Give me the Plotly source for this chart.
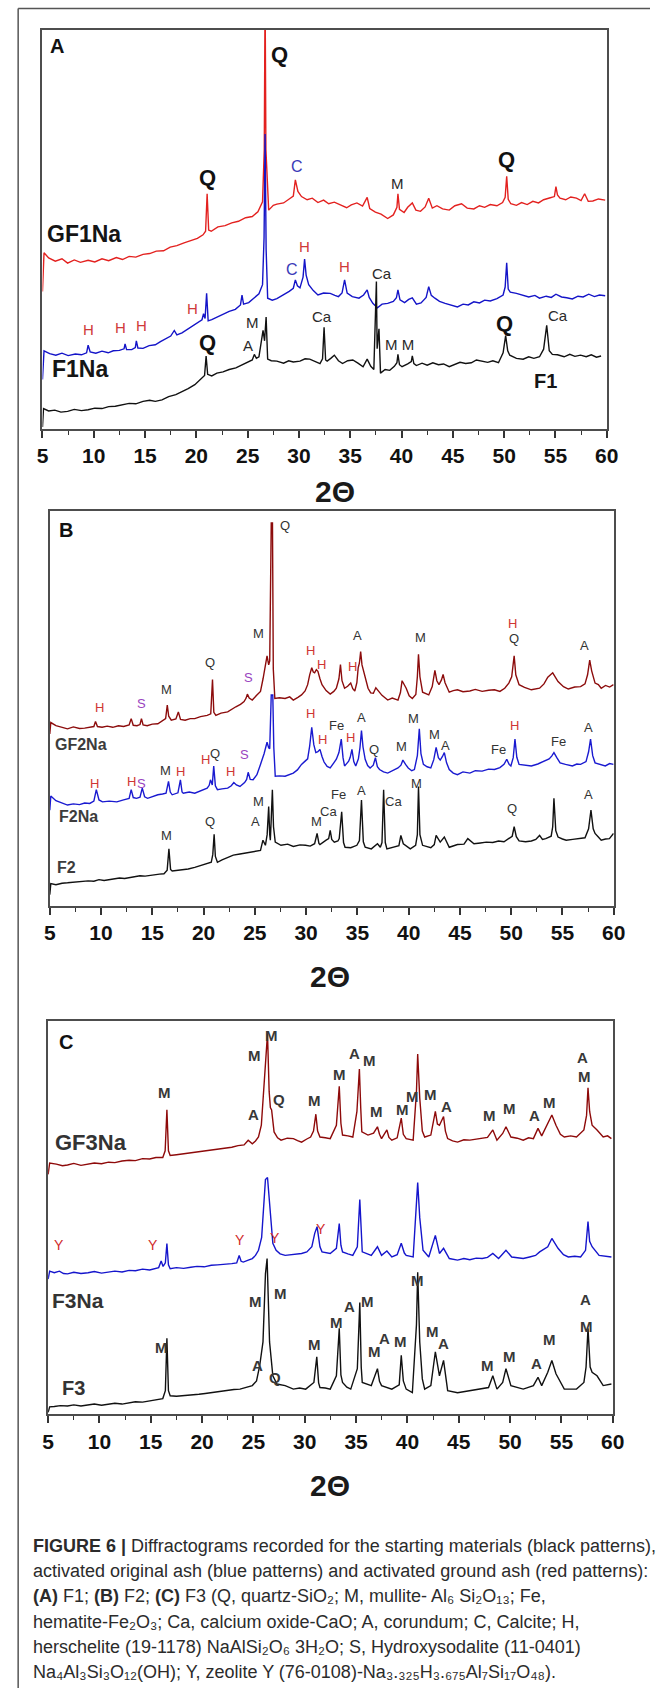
import plotly.graph_objects as go

# ---------------- Panel A : F1 series ----------------
a_gf1na_2t = [5.0, 5.15, 5.6, 6.25, 6.9, 7.45, 8.1, 8.7, 9.45, 10.1, 10.8, 11.45, 12.2, 12.8, 13.45, 14.1, 14.8, 15.45,
              16.1, 16.8, 17.45, 18.1, 18.8, 19.45, 20.1, 20.65, 20.9, 21.05, 21.2, 21.45, 22.1, 22.8, 23.45, 24.1, 24.8,
              25.45, 26.0, 26.45, 26.62, 26.7, 26.78, 27.05, 27.5, 27.85, 28.5, 29.05, 29.45, 29.65, 29.9, 30.25, 30.8,
              31.3, 31.85, 32.4, 32.9, 33.45, 34.0, 34.65, 35.1, 35.65, 36.2, 36.65, 36.9, 37.45, 38.0, 38.65, 39.2,
              39.55, 39.65, 39.8, 40.25, 40.6, 41.05, 41.4, 41.85, 42.3, 42.65, 43.0, 43.45, 44.0, 44.65, 45.2, 45.85,
              46.4, 47.05, 47.6, 48.1, 48.65, 49.3, 49.85, 50.1, 50.25, 50.4, 50.65, 51.2, 51.7, 52.25, 52.8, 53.35,
              53.85, 54.5, 54.9, 55.05, 55.2, 55.45, 56.0, 56.5, 57.05, 57.5, 57.85, 58.2, 58.65, 59.2, 59.85]
a_gf1na_int = [34.4, 44.1, 42.8, 42.0, 42.6, 41.5, 42.3, 41.7, 42.2, 41.8, 42.6, 42.1, 42.9, 42.4, 43.2, 43.0, 43.7, 43.9,
               44.5, 44.6, 45.5, 45.9, 46.6, 47.2, 47.7, 48.6, 49.5, 58.9, 49.8, 49.5, 50.6, 50.9, 51.6, 52.0, 52.9,
               53.2, 54.4, 56.9, 70.0, 110.0, 70.0, 54.8, 56.0, 56.3, 56.6, 57.6, 58.3, 62.4, 59.5, 58.2, 57.4,
               57.8, 56.7, 57.3, 56.4, 56.8, 56.2, 55.4, 56.1, 56.6, 55.8, 58.0, 55.2, 54.3, 53.8, 52.7, 53.6,
               55.5, 58.9, 55.0, 54.2, 55.5, 56.6, 54.8, 54.5, 55.6, 57.8, 55.3, 55.9, 55.1, 54.8, 55.9, 56.4,
               55.3, 55.1, 55.9, 55.5, 56.2, 55.9, 56.7, 58.0, 63.3, 57.5, 56.4, 56.0, 56.7, 56.2, 57.0, 56.6,
               57.4, 57.9, 58.2, 60.7, 58.6, 57.8, 57.4, 58.1, 57.8, 57.2, 58.9, 57.0, 57.1, 57.6, 57.3]

a_f1na_2t = [5.0, 5.15, 5.7, 6.3, 6.9, 7.5, 8.2, 8.8, 9.3, 9.45, 9.65, 10.2, 10.8, 11.4, 11.9, 12.5, 12.95, 13.05, 13.2,
             13.7, 14.05, 14.15, 14.3, 14.8, 15.4, 16.0, 16.5, 17.0, 17.5, 17.85, 18.1, 18.6, 19.1, 19.6, 20.1, 20.55,
             20.7, 20.85, 21.0, 21.15, 21.5, 22.0, 22.6, 23.2, 23.8, 24.3, 24.45, 24.6, 25.1, 25.6, 26.1, 26.45, 26.6,
             26.7, 26.8, 26.95, 27.4, 27.85, 28.4, 29.05, 29.45, 29.65, 29.85, 30.1, 30.4, 30.55, 30.7, 30.95, 31.4,
             31.85, 32.4, 33.05, 33.5, 33.85, 34.2, 34.45, 34.7, 35.2, 35.85, 36.3, 36.65, 36.85, 37.2, 37.65, 38.1,
             38.65, 39.2, 39.5, 39.65, 39.85, 40.3, 40.7, 41.05, 41.45, 41.9, 42.4, 42.65, 42.9, 43.25, 43.7, 44.25,
             44.8, 45.45, 46.0, 46.5, 47.05, 47.6, 48.1, 48.65, 49.3, 49.9, 50.1, 50.25, 50.4, 50.6, 51.2, 51.85,
             52.4, 53.0, 53.45, 54.1, 54.6, 55.05, 55.6, 56.1, 56.65, 57.2, 57.7, 58.25, 58.8, 59.3, 59.85]
a_f1na_int = [12.3, 19.5, 18.8, 18.4, 18.9, 18.3, 18.7, 18.5, 19.0, 20.9, 19.2, 18.9, 19.4, 19.0, 19.5, 19.6, 20.0, 21.2, 19.8,
              19.8, 20.3, 22.0, 20.2, 20.1, 20.8, 21.0, 21.8, 22.4, 23.2, 24.6, 23.5, 24.0, 24.9, 25.6, 26.5, 27.3,
              28.8, 27.6, 33.9, 27.0, 27.3, 27.9, 28.5, 29.4, 29.9, 31.0, 33.5, 31.2, 31.6, 32.6, 33.8, 36.1, 48.0,
              73.9, 45.0, 32.7, 32.2, 32.6, 33.4, 34.4, 35.2, 37.3, 35.8, 35.3, 38.0, 42.5, 38.5, 36.1, 34.6,
              33.5, 34.0, 33.9, 33.4, 33.1, 34.0, 37.3, 34.0, 33.1, 32.7, 33.5, 34.8, 32.9, 31.4, 30.3, 31.2,
              31.4, 31.9, 32.8, 34.8, 32.3, 31.6, 32.4, 32.8, 31.2, 31.5, 32.9, 35.6, 33.4, 32.7, 31.9, 31.4,
              31.0, 30.5, 31.2, 31.0, 31.8, 31.5, 32.2, 32.0, 32.6, 33.5, 35.5, 41.6, 35.0, 34.2, 33.9, 33.5,
              33.0, 33.4, 32.7, 33.2, 32.9, 33.7, 33.0, 32.8, 32.5, 33.2, 33.0, 33.7, 33.1, 33.5, 33.3]

a_f1_2t = [5.0, 5.1, 5.6, 6.2, 6.8, 7.45, 8.1, 8.8, 9.45, 10.1, 10.8, 11.45, 12.1, 12.8, 13.45, 14.1, 14.8, 15.45, 16.0,
           16.65, 17.3, 18.0, 18.6, 19.2, 19.85, 20.4, 20.8, 20.95, 21.1, 21.5, 22.0, 22.6, 23.2, 23.85, 24.5, 25.05,
           25.45, 25.65, 25.85, 26.1, 26.3, 26.5, 26.65, 26.8, 26.95, 27.3, 27.85, 28.5, 29.0, 29.45, 30.1, 30.6,
           31.05, 31.6, 32.05, 32.3, 32.45, 32.6, 32.75, 33.1, 33.45, 33.85, 34.25, 34.75, 35.25, 35.75, 36.25,
           36.65, 37.0, 37.3, 37.5, 37.55, 37.62, 37.7, 37.8, 37.95, 38.4, 38.85, 39.3, 39.55, 39.65, 39.8, 40.05,
           40.6, 40.95, 41.05, 41.2, 41.45, 42.0, 42.5, 43.05, 43.6, 44.1, 44.65, 45.2, 45.7, 46.25, 46.8, 47.3,
           47.85, 48.4, 48.9, 49.45, 49.9, 50.15, 50.35, 50.55, 51.2, 51.85, 52.4, 52.9, 53.45, 53.85, 54.15,
           54.4, 54.7, 55.2, 55.85, 56.4, 56.9, 57.45, 58.0, 58.5, 59.0, 59.45]
a_f1_int = [0.4, 5.0, 4.4, 4.6, 4.1, 4.3, 4.8, 4.5, 4.7, 5.1, 5.0, 5.5, 5.6, 6.0, 6.3, 6.2, 6.8, 7.1, 6.8,
            7.2, 8.0, 8.5, 9.2, 10.0, 11.0, 12.3, 13.3, 18.2, 13.6, 13.2, 13.9, 14.2, 14.8, 15.2, 16.0, 16.5,
            17.2, 18.6, 17.6, 18.0, 20.8, 24.6, 22.0, 28.0, 17.4, 17.0, 16.9, 16.4, 17.0, 16.7, 16.9, 17.5,
            17.4, 16.8, 16.3, 17.5, 25.4, 17.2, 16.9, 17.6, 18.4, 17.0, 16.3, 17.0, 17.2, 16.4, 15.5,
            17.4, 15.6, 14.8, 30.0, 36.9, 20.0, 22.5, 25.0, 13.9, 14.8, 14.6, 15.6, 16.5, 18.6, 16.0, 15.5,
            16.2, 16.8, 18.2, 16.3, 15.8, 16.4, 15.9, 16.5, 16.0, 16.2, 15.5, 16.0, 16.6, 16.3, 16.5, 17.2,
            16.9, 16.6, 17.0, 16.5, 19.0, 23.3, 19.5, 18.4, 17.6, 17.4, 18.0, 17.6, 18.0, 19.9, 25.9,
            19.5, 18.6, 18.5, 18.0, 18.6, 18.1, 18.4, 18.0, 18.5, 17.9, 18.2]

# ---------------- Panel B : F2 series ----------------
b_gf2na_2t = [5.0, 5.1, 5.6, 6.2, 6.73, 7.3, 7.9, 8.4, 8.9, 9.3, 9.46, 9.65, 10.1, 10.6, 11.14, 11.7, 12.2, 12.74, 12.94,
              13.14, 13.5, 13.8, 13.94, 14.1, 14.5, 15.0, 15.54, 16.0, 16.3, 16.46, 16.6, 16.85, 17.3, 17.54, 17.75,
              18.2, 18.7, 19.14, 19.7, 20.35, 20.7, 20.87, 21.0, 21.2, 21.7, 22.35, 22.8, 23.15, 23.6, 23.95, 24.15,
              24.27, 24.45, 24.75, 25.2, 25.55, 25.8, 25.95, 26.19, 26.35, 26.45, 26.6, 26.72, 26.8, 26.95, 27.4,
              27.95, 28.4, 28.75, 29.2, 29.55, 29.9, 30.15, 30.35, 30.55, 30.7, 30.83, 31.0, 31.15, 31.35, 31.55,
              31.95, 32.35, 32.7, 32.95, 33.2, 33.35, 33.5, 33.75, 34.05, 34.35, 34.55, 34.75, 34.95, 35.08, 35.2,
              35.32, 35.45, 35.64, 35.85, 36.04, 36.3, 36.56, 36.8, 36.96, 37.4, 37.96, 38.4, 38.96, 39.2, 39.36,
              39.55, 39.76, 40.05, 40.36, 40.7, 40.85, 40.96, 41.1, 41.36, 41.7, 41.96, 42.3, 42.56, 42.75, 42.96,
              43.2, 43.36, 43.55, 43.96, 44.35, 44.76, 45.3, 45.97, 46.5, 47.17, 47.8, 48.37, 48.9, 49.37, 49.77,
              50.05, 50.29, 50.45, 50.77, 51.3, 51.97, 52.4, 52.77, 53.2, 53.57, 54.05, 54.3, 54.57, 55.1, 55.57,
              56.2, 56.77, 57.2, 57.45, 57.66, 57.85, 58.18, 58.5, 58.78, 59.2, 59.6, 59.98]
b_gf2na_int = [43.5, 46.4, 45.6, 45.1, 44.8, 45.3, 44.9, 45.0, 45.3, 45.4, 46.7, 45.4, 45.2, 45.5, 45.2, 45.6, 45.4, 45.8, 47.4,
               45.7, 45.6, 45.9, 47.4, 45.8, 45.6, 46.0, 46.1, 46.8, 47.4, 50.8, 48.0, 47.0, 47.3, 49.1, 47.2,
               47.0, 47.4, 47.4, 47.9, 48.2, 48.6, 57.3, 49.0, 48.2, 48.8, 49.1, 49.9, 50.4, 51.0, 51.7, 52.6,
               53.6, 52.6, 52.1, 53.4, 54.3, 57.5, 59.4, 63.3, 61.0, 62.0, 97.0, 97.0, 60.0, 52.5, 52.7,
               52.5, 52.9, 52.1, 52.8, 53.4, 54.4, 56.0, 58.5, 60.3, 59.2, 59.0, 59.8, 59.4, 57.5, 56.0,
               54.5, 53.6, 54.3, 55.1, 57.5, 61.1, 57.0, 55.1, 55.6, 56.4, 55.0, 54.4, 56.5, 60.3, 61.5,
               64.4, 61.0, 59.0, 56.5, 55.1, 53.9, 53.8, 55.2, 54.7, 53.3, 52.1, 52.6, 52.1, 54.0, 57.0,
               56.2, 55.1, 53.2, 52.5, 53.5, 58.0, 63.7, 58.0, 54.1, 53.6, 53.4, 55.5, 59.6, 57.0, 56.0,
               57.2, 58.6, 56.5, 54.1, 54.5, 54.7, 54.2, 54.4, 54.8, 54.3, 54.6, 54.7, 54.3, 55.1, 56.4,
               58.0, 63.3, 58.5, 56.0, 55.3, 54.7, 55.0, 55.1, 56.2, 57.9, 59.0, 58.0, 56.8, 55.5, 54.9,
               55.4, 55.5, 56.2, 58.5, 62.2, 59.5, 56.4, 56.0, 55.1, 55.8, 55.4, 56.0]

b_f2na_2t = [5.0, 5.1, 5.6, 6.2, 6.73, 7.3, 7.9, 8.4, 8.9, 9.3, 9.54, 9.8, 10.14, 10.8, 11.54, 12.2, 12.74, 12.94, 13.14,
             13.46, 13.8, 14.02, 14.25, 14.54, 15.0, 15.54, 16.0, 16.34, 16.58, 16.75, 16.94, 17.5, 17.74, 17.9, 18.02,
             18.6, 19.14, 19.7, 20.35, 20.55, 20.67, 20.85, 20.99, 21.15, 21.35, 21.8, 22.35, 22.7, 22.95, 23.2,
             23.55, 24.0, 24.2, 24.35, 24.55, 24.83, 25.2, 25.55, 25.9, 26.19, 26.35, 26.45, 26.6, 26.75, 26.85,
             26.99, 27.4, 27.95, 28.35, 28.75, 29.15, 29.55, 29.85, 30.15, 30.35, 30.55, 30.75, 30.95, 31.15,
             31.35, 31.55, 31.75, 32.05, 32.35, 32.7, 32.95, 33.2, 33.43, 33.6, 33.75, 33.95, 34.15, 34.3, 34.47,
             34.65, 34.84, 35.1, 35.25, 35.4, 35.55, 35.76, 36.0, 36.24, 36.55, 36.76, 36.95, 37.16, 37.55, 37.96,
             38.45, 38.96, 39.25, 39.44, 39.7, 39.96, 40.3, 40.56, 40.85, 41.04, 41.2, 41.44, 41.8, 42.16, 42.45,
             42.68, 42.9, 43.08, 43.3, 43.48, 43.7, 43.96, 44.35, 44.76, 45.3, 45.97, 46.5, 47.17, 47.8, 48.37,
             48.9, 49.3, 49.57, 49.8, 49.97, 50.2, 50.37, 50.55, 50.77, 51.3, 51.97, 52.6, 53.17, 53.7, 53.95,
             54.17, 54.45, 54.77, 55.3, 55.97, 56.4, 56.77, 57.3, 57.55, 57.74, 57.95, 58.18, 58.6, 59.18, 59.6,
             59.98]
b_f2na_int = [24.2, 27.8, 26.6, 26.0, 25.5, 25.8, 25.6, 26.0, 25.9, 26.5, 29.4, 26.8, 26.3, 26.5, 26.3, 26.8, 27.2, 29.4, 27.4,
              27.2, 27.5, 29.8, 27.6, 27.2, 27.7, 28.1, 28.3, 28.5, 31.5, 28.8, 28.1, 28.6, 31.9, 28.8, 28.5,
              28.8, 28.5, 29.2, 29.8, 30.5, 31.9, 30.6, 35.4, 30.4, 29.4, 29.6, 29.8, 30.4, 31.2, 30.6,
              30.2, 31.2, 32.0, 33.8, 32.0, 31.9, 33.2, 35.8, 38.5, 41.4, 40.0, 39.8, 53.4, 53.4, 40.0,
              32.8, 32.9, 32.8, 33.2, 33.6, 34.4, 35.8, 36.5, 37.2, 40.5, 45.2, 40.8, 38.8, 39.0,
              39.6, 37.8, 36.4, 35.3, 34.9, 36.2, 37.1, 38.8, 42.2, 37.5, 35.4, 36.0, 36.6, 37.6, 39.6,
              36.5, 35.4, 37.2, 40.0, 44.4, 40.2, 37.1, 35.5, 34.9, 35.6, 37.5, 35.2, 34.5, 33.9, 33.6,
              34.2, 34.9, 35.6, 36.9, 35.8, 34.9, 34.2, 34.5, 38.0, 44.8, 38.5, 35.8, 35.2, 34.9, 37.0,
              40.1, 37.5, 36.9, 37.8, 38.8, 36.2, 34.5, 33.6, 33.2, 33.9, 33.6, 34.2, 34.1, 34.6, 34.5,
              35.0, 35.8, 37.1, 35.8, 35.4, 37.5, 42.2, 37.6, 35.8, 35.7, 35.4, 35.9, 36.6, 37.2, 37.9,
              38.8, 37.5, 36.2, 35.8, 35.4, 35.9, 35.8, 36.5, 39.0, 42.2, 38.0, 36.2, 35.9, 35.4, 36.0,
              35.8]

b_f2_2t = [5.0, 5.1, 5.6, 6.2, 6.73, 7.3, 7.9, 8.4, 8.74, 9.3, 9.8, 10.3, 10.74, 11.3, 11.8, 12.3, 12.74, 13.3, 13.8,
           14.3, 14.74, 15.3, 15.7, 16.14, 16.45, 16.62, 16.78, 16.94, 17.4, 17.94, 18.5, 19.14, 19.7, 20.35, 20.75,
           20.9, 21.03, 21.15, 21.35, 21.8, 22.35, 22.9, 23.55, 24.2, 24.95, 25.55, 25.79, 25.95, 26.03, 26.2,
           26.35, 26.45, 26.51, 26.6, 26.71, 26.82, 26.99, 27.55, 28.2, 28.75, 29.4, 29.95, 30.4, 30.83, 31.07,
           31.25, 31.35, 31.95, 32.2, 32.35, 32.5, 32.75, 33.1, 33.23, 33.47, 33.65, 33.8, 34.35, 34.95, 35.2,
           35.4, 35.58, 35.76, 36.36, 36.96, 37.24, 37.4, 37.56, 37.72, 37.88, 38.56, 39.05, 39.24, 39.48, 40.16,
           40.68, 40.85, 40.96, 41.1, 41.36, 42.16, 42.5, 42.68, 43.08, 43.48, 43.96, 44.76, 45.4, 45.77, 46.37,
           47.0, 47.57, 48.2, 48.77, 49.3, 49.77, 50.1, 50.29, 50.5, 50.77, 51.4, 51.97, 52.4, 52.77, 53.05,
           53.37, 53.9, 54.05, 54.17, 54.35, 54.57, 55.0, 55.37, 56.0, 56.57, 57.2, 57.55, 57.78, 58.0, 58.18,
           58.5, 58.78, 59.2, 59.58, 59.98]
b_f2_int = [2.8, 5.6, 5.3, 5.7, 5.8, 5.9, 6.0, 6.1, 6.3, 6.2, 6.6, 6.4, 6.6, 6.8, 7.0, 6.9, 7.1, 7.3, 7.6,
            7.5, 7.7, 7.9, 8.0, 8.1, 9.0, 14.4, 9.2, 8.8, 8.9, 9.0, 9.3, 9.7, 10.2, 10.7, 11.0,
            13.0, 18.1, 12.5, 11.0, 11.6, 12.3, 12.8, 13.1, 13.4, 13.6, 14.0, 16.6, 15.5, 15.3, 18.0,
            25.1, 18.0, 16.6, 22.0, 29.4, 20.0, 16.1, 15.3, 15.6, 15.0, 15.4, 15.3, 15.1, 15.7, 18.3,
            15.8, 15.5, 16.6, 17.0, 19.1, 16.8, 16.1, 16.4, 17.0, 23.8, 16.0, 14.8, 14.7, 15.3, 16.5,
            26.8, 16.2, 14.8, 14.4, 15.7, 14.8, 16.0, 29.4, 16.0, 14.4, 14.8, 15.2, 17.8, 15.7, 14.4,
            15.3, 18.0, 30.2, 18.0, 15.3, 14.7, 15.5, 17.8, 16.1, 17.4, 14.8, 15.5, 15.6, 17.0, 15.7,
            15.9, 16.1, 16.0, 16.4, 16.2, 17.0, 17.6, 20.0, 17.5, 16.4, 16.2, 16.4, 16.8, 17.8, 16.8,
            17.0, 17.6, 20.0, 27.2, 19.0, 17.4, 16.9, 16.6, 16.8, 17.0, 17.2, 19.5, 24.2, 19.5, 18.3,
            17.4, 16.6, 16.9, 17.0, 18.3]

# ---------------- Panel C : F3 series ----------------
c_gf3na_2t = [5.0, 5.15, 5.8, 6.4, 6.89, 7.5, 8.2, 8.89, 9.5, 10.2, 10.89, 11.5, 12.2, 12.89, 13.5, 14.2, 14.89, 15.5,
              16.17, 16.4, 16.57, 16.72, 16.89, 17.5, 18.09, 18.7, 19.29, 19.9, 20.49, 21.1, 21.69, 22.3, 22.89, 23.5,
              24.09, 24.49, 24.89, 25.2, 25.49, 25.77, 26.01, 26.21, 26.37, 26.53, 26.65, 26.77, 26.9, 27.01, 27.35,
              27.69, 28.3, 28.89, 29.3, 29.69, 30.2, 30.57, 30.85, 31.08, 31.25, 31.48, 32.0, 32.48, 33.08, 33.36,
              33.52, 33.68, 34.2, 34.68, 35.08, 35.32, 35.45, 35.56, 36.16, 36.7, 37.08, 37.28, 37.48, 38.0, 38.2,
              38.48, 39.0, 39.4, 39.6, 39.88, 40.56, 40.88, 41.0, 41.2, 41.45, 41.68, 42.28, 42.72, 42.92, 43.12,
              43.52, 43.7, 43.92, 44.4, 44.88, 45.5, 46.08, 46.7, 47.28, 47.8, 48.32, 48.72, 49.28, 49.6, 50.08,
              50.7, 51.28, 51.8, 52.27, 52.72, 53.08, 53.67, 54.07, 54.47, 54.9, 55.28, 55.9, 56.47, 57.19, 57.45,
              57.59, 57.75, 57.99, 58.47, 59.07, 59.5, 59.87]
c_gf3na_int = [61.0, 63.9, 63.6, 63.2, 63.4, 63.8, 63.3, 63.6, 63.9, 63.7, 64.1, 64.0, 64.4, 64.6, 64.5, 65.0, 64.9, 65.3,
               65.3, 67.0, 77.4, 67.0, 65.8, 66.0, 66.2, 66.5, 66.6, 66.9, 67.1, 67.2, 67.5, 67.6, 67.9, 68.3,
               68.5, 69.7, 68.8, 69.5, 70.5, 73.5, 82.1, 91.6, 96.8, 82.1, 78.0, 77.4, 74.0, 71.8, 70.3,
               69.7, 70.2, 70.1, 69.6, 69.2, 70.0, 70.5, 72.0, 76.3, 72.0, 70.5, 70.3, 70.1, 73.5, 83.4,
               74.0, 71.0, 70.8, 70.5, 77.0, 87.8, 78.0, 71.8, 71.0, 71.5, 73.1, 71.2, 70.1, 72.3, 70.4,
               69.7, 70.3, 75.3, 71.2, 70.1, 69.7, 82.1, 91.6, 80.4, 72.0, 70.5, 71.0, 77.0, 73.8, 73.5,
               75.7, 72.0, 70.1, 69.5, 69.2, 69.8, 69.7, 70.0, 70.1, 70.4, 72.3, 69.7, 71.4, 73.1, 70.5,
               70.2, 69.7, 70.3, 70.1, 72.7, 70.8, 74.0, 76.1, 73.5, 71.2, 70.5, 70.8, 70.5, 72.3, 76.0,
               83.0, 77.0, 73.5, 72.3, 70.5, 70.8, 70.1]

c_f3na_2t = [5.0, 5.15, 5.6, 6.1, 6.5, 6.89, 7.5, 8.2, 8.89, 9.5, 10.2, 10.89, 11.5, 12.2, 12.89, 13.5, 14.2, 14.89, 15.4,
             15.77, 16.01, 16.2, 16.42, 16.57, 16.72, 16.89, 17.5, 18.2, 18.89, 19.5, 20.2, 20.89, 21.5, 22.2, 22.89,
             23.37, 23.61, 23.8, 24.01, 24.5, 24.89, 25.2, 25.49, 25.8, 26.01, 26.17, 26.37, 26.49, 26.69, 26.89,
             27.21, 27.6, 28.09, 28.9, 29.69, 30.2, 30.69, 30.97, 31.2, 31.35, 31.48, 31.68, 32.1, 32.48, 33.08,
             33.36, 33.52, 33.68, 34.2, 34.68, 35.12, 35.36, 35.6, 36.0, 36.48, 37.08, 37.48, 38.0, 38.48, 39.0,
             39.4, 39.7, 39.88, 40.56, 40.88, 41.0, 41.2, 41.52, 42.08, 42.72, 43.12, 43.52, 44.08, 44.88, 45.5,
             46.08, 46.7, 47.28, 47.8, 48.32, 48.88, 49.6, 50.16, 50.7, 51.28, 51.9, 52.48, 52.88, 53.67, 54.07,
             54.67, 55.2, 55.67, 56.3, 56.87, 57.35, 57.59, 57.75, 57.99, 58.67, 59.2, 59.87]
c_f3na_int = [34.4, 36.4, 36.0, 36.4, 35.8, 35.7, 36.1, 35.8, 36.0, 36.3, 35.9, 36.1, 36.4, 36.2, 36.6, 36.5, 36.9, 36.7, 37.0,
              37.3, 39.0, 37.6, 38.5, 43.4, 38.0, 37.0, 37.3, 37.1, 37.4, 37.6, 37.5, 37.9, 38.0, 38.1, 38.3,
              38.5, 40.4, 38.9, 38.7, 39.2, 39.6, 40.4, 41.7, 45.0, 52.0, 59.7, 60.2, 56.3, 47.7, 43.5,
              41.7, 40.8, 40.4, 40.7, 40.9, 41.3, 42.6, 46.0, 47.7, 45.0, 42.6, 41.3, 41.0, 40.9, 42.2,
              48.5, 43.0, 41.3, 40.8, 40.4, 42.6, 54.6, 41.3, 40.8, 40.4, 42.6, 40.4, 41.5, 40.0, 40.6,
              43.5, 41.0, 40.4, 40.0, 52.0, 58.9, 50.0, 41.7, 40.0, 45.5, 40.9, 42.2, 39.6, 39.2, 39.6,
              39.3, 39.7, 39.6, 39.9, 40.9, 39.6, 41.7, 40.0, 39.8, 39.6, 40.0, 40.4, 41.3, 42.6, 44.7,
              42.2, 40.6, 40.0, 40.2, 40.0, 41.7, 49.0, 44.0, 42.6, 40.4, 40.2, 40.0]

c_f3_2t = [5.0, 5.15, 5.6, 6.2, 6.89, 7.5, 8.2, 8.89, 9.5, 10.2, 10.89, 11.5, 12.2, 12.89, 13.5, 14.2, 14.89, 15.5, 16.17,
           16.42, 16.57, 16.72, 16.89, 17.5, 18.09, 18.9, 19.69, 20.3, 20.89, 21.7, 22.49, 23.1, 23.69, 24.3, 24.89,
           25.3, 25.61, 25.93, 26.17, 26.33, 26.45, 26.57, 26.89, 27.29, 28.09, 28.89, 29.5, 30.09, 30.89, 31.17,
           31.35, 31.48, 32.0, 32.48, 33.08, 33.36, 33.52, 33.68, 34.1, 34.48, 35.12, 35.36, 35.5, 35.6, 36.48,
           37.08, 37.28, 37.48, 38.48, 39.2, 39.4, 39.6, 39.88, 40.48, 40.88, 41.0, 41.2, 41.45, 41.68, 42.28,
           42.72, 43.12, 43.52, 43.92, 44.88, 46.08, 47.28, 47.9, 48.32, 48.72, 49.28, 49.6, 50.08, 51.28, 52.27,
           52.72, 53.08, 53.67, 54.07, 54.47, 55.28, 56.47, 57.19, 57.4, 57.59, 57.8, 57.99, 58.47, 59.07, 59.87]
c_f3_int = [0.5, 1.9, 2.0, 2.2, 2.1, 2.4, 2.1, 2.3, 2.6, 2.3, 2.5, 2.8, 2.6, 2.9, 3.2, 3.1, 3.4, 3.6, 4.0,
            6.0, 19.3, 6.0, 4.7, 4.6, 4.7, 5.0, 5.1, 5.3, 5.5, 5.9, 6.2, 6.3, 6.4, 6.9, 7.3,
            8.5, 12.4, 18.4, 35.7, 39.6, 30.0, 18.4, 9.8, 7.7, 7.3, 6.4, 6.7, 6.4, 8.1, 14.6,
            8.0, 6.8, 6.7, 6.4, 9.8, 21.9, 10.0, 8.1, 6.9, 6.4, 11.6, 28.4, 12.0, 8.1, 7.3,
            11.6, 8.4, 7.3, 6.4, 7.5, 15.0, 8.5, 6.4, 5.5, 22.8, 36.1, 18.4, 9.0, 6.4, 7.3,
            15.9, 9.8, 13.7, 6.0, 5.5, 6.0, 6.4, 6.8, 9.8, 6.4, 8.1, 11.6, 7.3, 6.4, 7.3,
            9.4, 7.3, 10.7, 13.7, 10.3, 6.4, 6.4, 8.1, 12.0, 21.9, 12.0, 10.7, 9.8, 7.3, 7.7]

# ---------------- Phase labels: (text, 2theta, height, style) ----------------
a_labels = [("Q", 28.1, 93.9, "big"), ("Q", 21.05, 63.1, "big"), ("Q", 50.25, 67.5, "big"),
            ("Q", 50.05, 26.3, "big"), ("Q", 21.05, 21.6, "big"),
            ("C", 29.85, 65.7, "blue"), ("M", 39.65, 61.6, "dark"), ("H", 30.55, 45.6, "red"),
            ("C", 29.3, 39.9, "blue"), ("H", 34.45, 40.7, "red"), ("Ca", 38.05, 39.0, "dark"),
            ("H", 19.65, 30.1, "red"), ("H", 9.45, 24.8, "red"), ("H", 12.65, 25.4, "red"),
            ("H", 14.65, 25.9, "red"), ("M", 25.45, 26.5, "dark"), ("Ca", 32.25, 28.0, "dark"),
            ("Ca", 55.25, 28.4, "dark"), ("A", 25.05, 20.8, "dark"), ("M M", 39.8, 21.2, "dark")]

b_labels = [("Q", 27.95, 96.3, "dark"), ("M", 25.35, 68.9, "dark"), ("H", 30.43, 64.7, "red"),
            ("A", 35.0, 68.4, "dark"), ("M", 41.16, 68.0, "dark"), ("H", 50.17, 71.4, "red"),
            ("Q", 50.29, 67.6, "dark"), ("A", 57.17, 65.9, "dark"), ("H", 31.47, 61.1, "red"),
            ("H", 34.48, 60.7, "red"), ("Q", 20.63, 61.6, "dark"), ("S", 24.35, 57.9, "purple"),
            ("M", 16.42, 54.7, "dark"), ("S", 13.94, 51.2, "purple"), ("H", 9.86, 50.1, "red"),
            ("H", 30.43, 48.7, "red"), ("Fe", 32.96, 45.7, "dark"), ("A", 35.4, 47.8, "dark"),
            ("M", 40.48, 47.4, "dark"), ("H", 50.37, 45.7, "red"), ("A", 57.58, 45.2, "dark"),
            ("H", 31.64, 42.2, "red"), ("H", 34.36, 42.7, "red"), ("Q", 36.64, 39.6, "dark"),
            ("M", 39.28, 40.3, "dark"), ("M", 42.56, 43.3, "dark"), ("A", 43.64, 40.5, "dark"),
            ("Fe", 48.77, 39.6, "dark"), ("Fe", 54.57, 41.5, "dark"), ("H", 20.15, 37.1, "red"),
            ("Q", 21.07, 38.6, "dark"), ("S", 24.03, 38.4, "purple"), ("M", 16.26, 34.3, "dark"),
            ("H", 17.74, 33.9, "red"), ("H", 22.67, 34.1, "red"), ("H", 12.94, 31.5, "red"),
            ("S", 13.94, 30.9, "purple"), ("H", 9.34, 30.9, "red"), ("M", 25.35, 26.3, "dark"),
            ("Fe", 33.16, 28.1, "dark"), ("A", 35.36, 29.3, "dark"), ("Ca", 32.16, 23.8, "dark"),
            ("Ca", 38.56, 26.3, "dark"), ("M", 40.76, 31.0, "dark"), ("Q", 50.05, 24.6, "dark"),
            ("A", 57.5, 28.1, "dark"), ("M", 16.34, 17.8, "dark"), ("Q", 20.63, 21.3, "dark"),
            ("A", 25.07, 21.3, "dark"), ("M", 31.03, 21.3, "dark")]

c_labels = [("M", 26.8, 96.4, "dark"), ("M", 25.09, 91.2, "dark"), ("A", 34.88, 91.8, "dark"),
            ("M", 36.28, 89.9, "dark"), ("A", 57.07, 90.8, "dark"), ("M", 57.27, 86.0, "dark"),
            ("M", 33.36, 86.3, "dark"), ("M", 16.29, 81.7, "dark"), ("Q", 27.49, 80.0, "dark"),
            ("M", 30.97, 79.7, "dark"), ("M", 40.48, 80.9, "dark"), ("M", 42.28, 81.3, "dark"),
            ("A", 43.76, 78.3, "dark"), ("M", 37.0, 77.0, "dark"), ("M", 39.48, 77.4, "dark"),
            ("M", 47.99, 76.1, "dark"), ("M", 49.99, 77.8, "dark"), ("A", 52.36, 76.1, "dark"),
            ("M", 53.87, 79.4, "dark"), ("A", 25.01, 76.3, "dark"),
            ("Y", 6.1, 43.0, "red"), ("Y", 15.2, 43.0, "red"), ("Y", 23.7, 44.2, "red"),
            ("Y", 27.1, 44.9, "red"), ("Y", 31.6, 47.2, "red"),
            ("M", 40.97, 34.0, "dark"), ("M", 25.2, 28.8, "dark"), ("M", 27.6, 30.7, "dark"),
            ("A", 34.4, 27.5, "dark"), ("M", 36.1, 28.8, "dark"), ("M", 33.08, 23.4, "dark"),
            ("A", 57.35, 29.2, "dark"), ("M", 57.47, 22.3, "dark"), ("M", 16.01, 16.9, "dark"),
            ("M", 30.97, 17.8, "dark"), ("A", 37.76, 19.2, "dark"), ("M", 39.28, 18.5, "dark"),
            ("M", 36.8, 15.9, "dark"), ("M", 42.48, 21.0, "dark"), ("A", 43.48, 18.0, "dark"),
            ("M", 53.87, 18.9, "dark"), ("M", 49.99, 14.6, "dark"), ("M", 47.76, 12.3, "dark"),
            ("A", 52.56, 12.9, "dark"), ("A", 25.37, 12.3, "dark"), ("Q", 27.09, 9.4, "dark")]

# sample names: (text, left 2theta, height, font size)
a_names = [("GF1Na", 5.24, 48.9, 23), ("F1Na", 5.71, 15.0, 23), ("F1", 52.72, 11.8, 20)]
b_names = [("GF2Na", 5.33, 40.9, 16), ("F2Na", 5.66, 22.7, 16), ("F2", 5.47, 9.8, 16)]
c_names = [("GF3Na", 5.49, 69.2, 22), ("F3Na", 5.22, 29.0, 21), ("F3", 6.11, 6.6, 20)]

caption_lines = [
    "<b>FIGURE 6 |</b> Diffractograms recorded for the starting materials (black patterns),",
    "activated original ash (blue patterns) and activated ground ash (red patterns):",
    "<b>(A)</b> F1; <b>(B)</b> F2; <b>(C)</b> F3 (Q, quartz-SiO\u2082; M, mullite- Al\u2086 Si\u2082O\u2081\u2083; Fe,",
    "hematite-Fe\u2082O\u2083; Ca, calcium oxide-CaO; A, corundum; C, Calcite; H,",
    "herschelite (19-1178) NaAlSi\u2082O\u2086 3H\u2082O; S, Hydroxysodalite (11-0401)",
    "Na\u2084Al\u2083Si\u2083O\u2081\u2082(OH); Y, zeolite Y (76-0108)-Na\u2083.\u2083\u2082\u2085H\u2083.\u2086\u2087\u2085Al\u2087Si\u2081\u2087O\u2084\u2088).",
]

# ---------------- layout geometry (pixels) ----------------
W, H = 662, 1688
FONT = "Liberation Sans, Arial, sans-serif"


def px_x(v):
    return v / W


def px_y(v):
    return 1 - v / H


panels = [
    # (suffix, left, right, top, bottom)
    ("", 37.5, 617.5, 30.0, 428.5),
    ("2", 45.0, 624.7, 511.0, 905.7),
    ("3", 43.3, 623.7, 1021.0, 1414.3),
]

fig = go.Figure()

series = [
    ("", [(a_gf1na_2t, a_gf1na_int, "#e3211f"), (a_f1na_2t, a_f1na_int, "#1414c8"), (a_f1_2t, a_f1_int, "#111111")]),
    ("2", [(b_gf2na_2t, b_gf2na_int, "#8c0c0c"), (b_f2na_2t, b_f2na_int, "#1a1ad0"), (b_f2_2t, b_f2_int, "#111111")]),
    ("3", [(c_gf3na_2t, c_gf3na_int, "#8e0a0a"), (c_f3na_2t, c_f3na_int, "#1515cc"), (c_f3_2t, c_f3_int, "#111111")]),
]

for sfx, curves in series:
    for xs, ys, col in curves:
        fig.add_trace(go.Scatter(x=xs, y=ys, mode="lines", line=dict(color=col, width=1.4),
                                 xaxis="x" + sfx, yaxis="y" + sfx, showlegend=False, hoverinfo="skip"))

layout_axes = {}
for sfx, left, right, top, bottom in panels:
    xa = "xaxis" + sfx
    ya = "yaxis" + sfx
    layout_axes[xa] = dict(
        domain=[px_x(left), px_x(right)], anchor="y" + sfx, range=[5, 60],
        showline=True, linecolor="#4d4d4d", linewidth=2, mirror=True,
        ticks="outside", ticklen=7, tickwidth=1.5, tickcolor="#333333",
        tick0=5, dtick=5, showgrid=False, zeroline=False,
        tickfont=dict(family=FONT, size=21, color="#111111", weight="bold"),
        minor=dict(dtick=2.5, tick0=5, ticks="outside", ticklen=4, tickwidth=1.2, tickcolor="#333333", showgrid=False),
    )
    layout_axes[ya] = dict(
        domain=[px_y(bottom), px_y(top)], anchor="x" + sfx, range=[0, 100],
        showline=True, linecolor="#4d4d4d", linewidth=2, mirror=True,
        ticks="", showticklabels=False, showgrid=False, zeroline=False,
    )

annotations = []

label_styles = {
    "": {"big": (22, "#111111", "bold"), "dark": (15, "#2a2a2a", "normal"),
         "red": (15, "#d03a3a", "normal"), "blue": (16, "#3a3ab8", "normal")},
    "2": {"dark": (13, "#333333", "normal"), "red": (13, "#cf3535", "normal"),
          "purple": (13, "#9a44c0", "normal")},
    "3": {"dark": (15, "#383838", "bold"), "red": (14, "#d02a2a", "normal")},
}

for sfx, labels in (("", a_labels), ("2", b_labels), ("3", c_labels)):
    for text, xv, yv, style in labels:
        size, col, weight = label_styles[sfx][style]
        annotations.append(dict(text=text, x=xv, y=yv, xref="x" + sfx, yref="y" + sfx,
                                showarrow=False, xanchor="center", yanchor="middle",
                                font=dict(family=FONT, size=size, color=col, weight=weight)))

name_colors = {"": "#151515", "2": "#3c3c3c", "3": "#333333"}
for sfx, names in (("", a_names), ("2", b_names), ("3", c_names)):
    for text, xv, yv, size in names:
        annotations.append(dict(text=text, x=xv, y=yv, xref="x" + sfx, yref="y" + sfx,
                                showarrow=False, xanchor="left", yanchor="middle",
                                font=dict(family=FONT, size=size, color=name_colors[sfx], weight="bold")))

# panel letters
for letter, sfx, xv, yv in (("A", "", 5.52, 96.0), ("B", "2", 5.66, 95.3), ("C", "3", 5.82, 94.7)):
    annotations.append(dict(text=letter, x=xv, y=yv, xref="x" + sfx, yref="y" + sfx,
                            showarrow=False, xanchor="left", yanchor="middle",
                            font=dict(family=FONT, size=20, color="#111111", weight="bold")))

# axis titles
for cx, cy in ((338, 491), (333, 976), (333, 1485)):
    annotations.append(dict(text="2\u0398", x=px_x(cx), y=px_y(cy), xref="paper", yref="paper",
                            showarrow=False, xanchor="center", yanchor="middle",
                            font=dict(family=FONT, size=30, color="#1a1a1a", weight="bold")))

# caption
cap_top = [1534, 1559, 1584, 1609.5, 1635, 1660]
for line, ty in zip(caption_lines, cap_top):
    annotations.append(dict(text=line, x=px_x(26), y=px_y(ty), xref="paper", yref="paper",
                            showarrow=False, xanchor="left", yanchor="top", align="left",
                            font=dict(family="Liberation Sans Narrow, Arial Narrow, Liberation Sans, sans-serif",
                                      size=18, color="#2b2b2b")))

# outer frame (left and top edges)
shapes = [
    dict(type="line", xref="paper", yref="paper", x0=px_x(12.5), x1=px_x(12.5), y0=0, y1=px_y(8.5),
         line=dict(color="#555555", width=1.5)),
    dict(type="line", xref="paper", yref="paper", x0=px_x(12.5), x1=1, y0=px_y(8.5), y1=px_y(8.5),
         line=dict(color="#555555", width=1.5)),
]

fig.update_layout(
    width=W, height=H, margin=dict(l=0, r=0, t=0, b=0),
    paper_bgcolor="white", plot_bgcolor="white",
    annotations=annotations, shapes=shapes, **layout_axes,
)

fig.write_html("out.html")
